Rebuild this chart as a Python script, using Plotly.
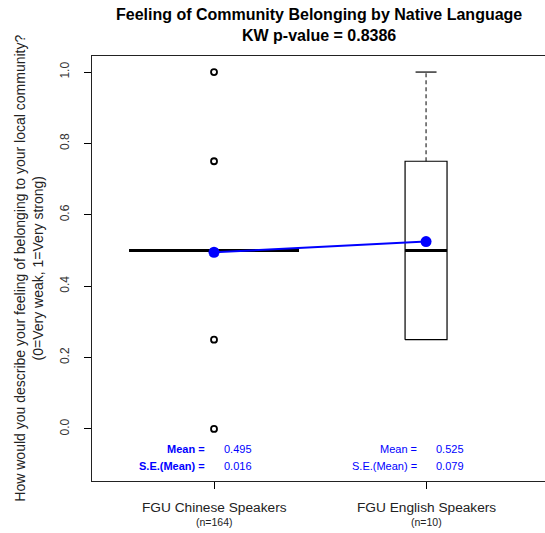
import numpy as np
import plotly.graph_objects as go

# data
groups = ['FGU Chinese Speakers', 'FGU English Speakers']
counts = [164, 10]
q1 = [0.5, 0.25]
med = [0.5, 0.5]
q3 = [0.5, 0.75]
lo_whisk = [0.5, 0.25]
hi_whisk = [0.5, 1.0]
outliers = [[0.0, 0.25, 0.75, 1.0], []]
means = [0.495, 0.525]
se_means = [0.016, 0.079]
pval = 0.8386

FONT = 'Liberation Sans, Arial, sans-serif'
xpos = [1, 2]
# varwidth boxes: half width proportional to sqrt(n)
half_w = [0.0313 * np.sqrt(n) for n in counts]

fig = go.Figure()

for i, x in enumerate(xpos):
    hw = half_w[i]
    # box
    fig.add_trace(go.Scatter(
        x=[x - hw, x + hw, x + hw, x - hw, x - hw],
        y=[q1[i], q1[i], q3[i], q3[i], q1[i]],
        mode='lines', line=dict(color='black', width=1.2),
        hoverinfo='skip', showlegend=False))
    # whiskers (dashed) and caps
    if hi_whisk[i] > q3[i]:
        fig.add_trace(go.Scatter(x=[x, x], y=[q3[i], hi_whisk[i]], mode='lines',
                                 line=dict(color='black', width=1, dash='4px,3px'),
                                 hoverinfo='skip', showlegend=False))
        fig.add_trace(go.Scatter(x=[x - hw / 2, x + hw / 2], y=[hi_whisk[i]] * 2, mode='lines',
                                 line=dict(color='black', width=1.2),
                                 hoverinfo='skip', showlegend=False))
    if lo_whisk[i] < q1[i]:
        fig.add_trace(go.Scatter(x=[x, x], y=[lo_whisk[i], q1[i]], mode='lines',
                                 line=dict(color='black', width=1, dash='4px,3px'),
                                 hoverinfo='skip', showlegend=False))
        fig.add_trace(go.Scatter(x=[x - hw / 2, x + hw / 2], y=[lo_whisk[i]] * 2, mode='lines',
                                 line=dict(color='black', width=1.2),
                                 hoverinfo='skip', showlegend=False))
    # median
    fig.add_trace(go.Scatter(x=[x - hw, x + hw], y=[med[i]] * 2, mode='lines',
                             line=dict(color='black', width=3),
                             hoverinfo='skip', showlegend=False))
    # outliers
    if outliers[i]:
        fig.add_trace(go.Scatter(x=[x] * len(outliers[i]), y=outliers[i], mode='markers',
                                 marker=dict(symbol='circle-open', size=6, color='black',
                                             line=dict(width=1.8)),
                                 showlegend=False))

# means
fig.add_trace(go.Scatter(x=xpos, y=means, mode='lines+markers',
                         line=dict(color='#0000ff', width=2),
                         marker=dict(color='#0000ff', size=11),
                         showlegend=False))

# mean / se text
for i, x in enumerate(xpos):
    lab = ['Mean =', 'S.E.(Mean) =']
    vals = ['%.3f' % means[i], '%.3f' % se_means[i]]
    for j, yy in enumerate([-0.056, -0.104]):
        t = '<b>%s</b>' % lab[j] if i == 0 else lab[j]
        fig.add_annotation(x=x, y=yy, text=t, showarrow=False, xanchor='right',
                           xshift=-7, font=dict(family=FONT, size=11, color='#0000ff'))
        fig.add_annotation(x=x, y=yy, text=vals[j], showarrow=False, xanchor='left',
                           xshift=8, font=dict(family=FONT, size=11, color='#0000ff'))

# x labels
for i, x in enumerate(xpos):
    fig.add_annotation(x=x, y=0, yref='paper', yanchor='middle', yshift=-26,
                       text=groups[i], showarrow=False,
                       font=dict(family=FONT, size=13.7, color='#222'))
    fig.add_annotation(x=x, y=0, yref='paper', yanchor='middle', yshift=-41,
                       text='(n=%d)' % counts[i],
                       showarrow=False, font=dict(family=FONT, size=10.5, color='#222'))

# title
fig.add_annotation(x=0.5, xref='paper', y=1.074, yref='paper', xanchor='center', yanchor='middle',
                   text='<b>Feeling of Community Belonging by Native Language<br>KW p-value = %.4f</b>' % pval,
                   showarrow=False, font=dict(family=FONT, size=16, color='black'))

# y axis title
fig.add_annotation(x=-0.140, xref='paper', y=0.501, yref='paper', textangle=-90,
                   xanchor='center', yanchor='middle',
                   text='How would you describe your feeling of belonging to your local community?<br>(0=Very weak, 1=Very strong)',
                   showarrow=False, font=dict(family=FONT, size=14, color='#222'))

fig.update_layout(
    width=545, height=533,
    margin=dict(l=92, r=0, t=56, b=52),
    paper_bgcolor='white', plot_bgcolor='white',
    font=dict(family=FONT, color='#222'),
    xaxis=dict(range=[0.4245, 2.561], tickvals=xpos, showticklabels=False,
               ticks='outside', ticklen=7, tickcolor='black',
               showline=True, mirror=True, linecolor='#222', linewidth=1.2,
               showgrid=False, zeroline=False),
    # frame runs off the right edge in the original, so no right-hand line
    yaxis=dict(range=[-0.146, 1.045], tickvals=[0, 0.2, 0.4, 0.6, 0.8, 1.0],
               ticktext=['0.0', '0.2', '0.4', '0.6', '0.8', '1.0'], tickangle=-90,
               ticks='outside', ticklen=7, tickcolor='black', ticklabelstandoff=10,
               tickfont=dict(family=FONT, size=12, color='#333'),
               showline=True, mirror=False, linecolor='#222', linewidth=1.2,
               showgrid=False, zeroline=False),
)

# drop the default 8px page margin so the figure fills the window
fig.write_html('out.html', config={'displayModeBar': False},
               post_script="document.body.style.margin='0';")
